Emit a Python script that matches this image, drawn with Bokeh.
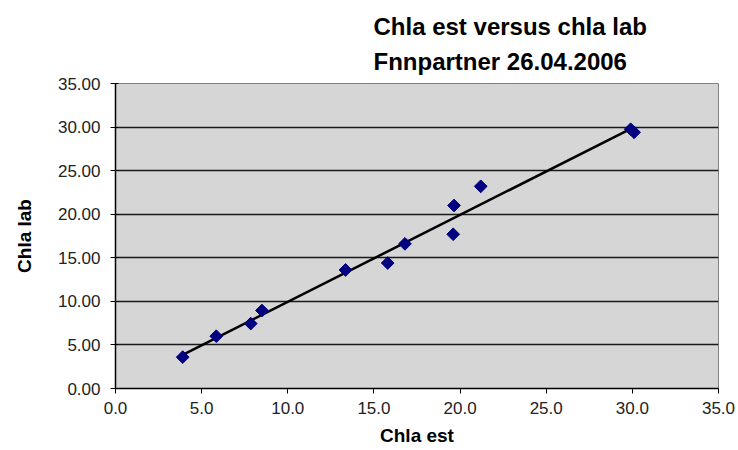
import numpy as np
from bokeh.plotting import figure
from bokeh.models import Range1d, SingleIntervalTicker, PrintfTickFormatter, ColumnDataSource
from bokeh.embed import file_html
from bokeh.resources import INLINE

# Data
chla_est = [3.9, 5.85, 7.85, 8.5, 13.35, 15.8, 16.8, 19.6, 19.65, 21.2, 29.9, 30.1]
chla_lab = [3.6, 6.0, 7.45, 8.95, 13.6, 14.4, 16.6, 17.7, 21.0, 23.2, 29.75, 29.4]
title_lines = ["Chla est versus chla lab", "Fnnpartner 26.04.2006"]
x_label = "Chla est"
y_label = "Chla lab"

FONT = "Liberation Sans"

p = figure(width=738, height=450, output_backend="svg", toolbar_location=None,
           x_range=Range1d(0, 35), y_range=Range1d(0, 35),
           min_border_left=115, min_border_right=20, min_border_top=83, min_border_bottom=62)

p.title.text = "\n".join(title_lines)
p.title.align = "left"
p.title.offset = 258
p.title.text_font = FONT
p.title.text_font_size = "24px"
p.title.text_font_style = "bold"
p.title.text_color = "black"
p.title.text_line_height = 1.3
p.title.standoff = 17

p.background_fill_color = "#d6d6d6"
p.border_fill_color = "white"
p.outline_line_color = "#808080"
p.outline_line_width = 1

p.xgrid.visible = False
p.ygrid.grid_line_color = "#1a1a1a"
p.ygrid.grid_line_width = 1.5
p.ygrid.ticker = SingleIntervalTicker(interval=5)

for ax, fmt in ((p.xaxis[0], "%.1f"), (p.yaxis[0], "%.2f")):
    ax.ticker = SingleIntervalTicker(interval=5)
    ax.formatter = PrintfTickFormatter(format=fmt)
    ax.minor_tick_line_color = None
    ax.axis_line_color = "black"
    ax.axis_line_width = 1.5
    ax.major_tick_line_color = "black"
    ax.major_tick_out = 5
    ax.major_label_text_font = FONT
    ax.major_label_text_font_size = "17px"
    ax.major_label_text_color = "#222222"
    ax.axis_label_text_font = FONT
    ax.axis_label_text_font_size = "19px"
    ax.axis_label_text_font_style = "bold"
    ax.axis_label_text_color = "black"

p.xaxis.axis_label = x_label
p.yaxis.axis_label = y_label
p.xaxis.major_tick_in = 0
p.yaxis.major_tick_in = 3
p.xaxis.major_label_standoff = 8
p.yaxis.major_label_standoff = 10
p.xaxis.axis_label_standoff = 8
p.yaxis.axis_label_standoff = 20

# linear trend line fitted to the data
slope, intercept = np.polyfit(chla_est, chla_lab, 1)
tx = [min(chla_est), max(chla_est)]
ty = [slope * v + intercept for v in tx]
p.line(tx, ty, line_color="black", line_width=2.5)

src = ColumnDataSource(dict(x=chla_est, y=chla_lab))
p.scatter("x", "y", source=src, marker="square", angle=np.pi / 4, size=9,
          fill_color="#000080", line_color="#000080")

open("out.html", "w").write(file_html(p, INLINE))
